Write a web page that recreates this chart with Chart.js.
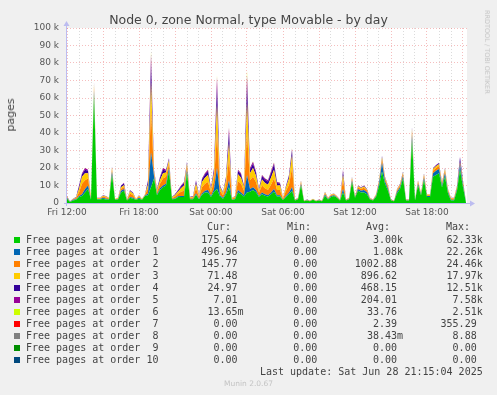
<!DOCTYPE html>
<html>
<head>
<meta charset="utf-8">
<title>Node 0, zone Normal, type Movable - by day</title>
<script src="https://cdn.jsdelivr.net/npm/chart.js@4/dist/chart.umd.min.js"></script>
<style>
  html, body { margin: 0; padding: 0; background: #f0f0f0; }
  #wrap { position: relative; width: 497px; height: 395px; overflow: hidden; font-family: "DejaVu Sans", sans-serif; color: #444; }
  #chart { position: absolute; left: 0; top: 0; }
  .txt { position: absolute; white-space: pre; }
  .mono { font-family: "DejaVu Sans Mono", monospace; font-size: 10px; line-height: 12px; color: #444; }
  .swatch { position: absolute; width: 6px; height: 6px; }
</style>
</head>
<body>
<div id="wrap">
  <canvas id="chart" width="497" height="395"></canvas>
  <div class="txt" id="title" style="left:0;width:497px;top:12px;text-align:center;font-size:12.5px;line-height:16px;">Node 0, zone Normal, type Movable - by day</div>
  <div class="txt" style="left:11px;top:115px;font-size:11px;line-height:12px;transform:translate(-50%,-50%) rotate(-90deg);">pages</div>
  <div class="txt" style="left:487px;top:52px;font-size:6.5px;line-height:8px;color:#c4c4c4;transform:translate(-50%,-50%) rotate(90deg);">RRDTOOL / TOBI OETIKER</div>
  <div id="legend"></div>
  <div class="txt" style="left:0;width:497px;top:379px;text-align:center;font-size:7.5px;line-height:10px;color:#c4c4c4;">Munin 2.0.67</div>
</div>
<script>
// 5-minute munin samples every 15 minutes, in thousands of pages
const sampleMinutes = 15;

const order0 = [
  2.5, 0.6, 1.5, 1.8, 3.5, 4, 6, 8, 2, 62,
  2, 2, 2.5, 2, 2, 16, 1.8, 2, 6, 7,
  1.4, 3, 2.5, 1.8, 2.5, 1.8, 4, 4.5, 9, 14,
  4.5, 7.5, 9, 10, 18, 2.2, 2.3, 3.4, 3.5, 3.5,
  17, 2.2, 2.2, 4.7, 2.2, 4.7, 6, 6, 3.5, 6.5,
  8, 3.7, 2.5, 5, 9, 1.7, 2.2, 6, 5, 3.7,
  6, 6.5, 7.5, 6.2, 3.5, 5, 4.2, 3.7, 5, 6.5,
  3.7, 3.7, 1.7, 3.5, 5, 7, 1.4, 2, 10, 1,
  1.4, 1, 1.8, 1, 1.4, 1, 4, 2, 3.5, 4,
  3, 1.4, 6, 1.4, 2, 12, 3, 7, 6, 6,
  5, 2, 1.4, 3.5, 9.5, 18, 11, 7, 1.4, 1,
  5.5, 8, 14, 1.4, 1.4, 36, 1.4, 10, 4.5, 13,
  3.5, 3.5, 15, 16, 17, 9, 15, 5.5, 1.5, 1.5,
  7, 19, 9, 0.2
];
const order1 = [
  0.5, 0.1, 0.3, 0.3, 0.5, 1, 2, 2, 0.3, 2.5,
  0.3, 0.3, 0.5, 0.5, 0.3, 2, 0.2, 0.3, 1, 1,
  0.2, 0.5, 0.5, 0.2, 0.5, 0.2, 0.3, 1, 20, 1.5,
  0.5, 1, 1, 1, 2, 0.2, 0.3, 0.4, 0.5, 0.5,
  2, 0.2, 0.2, 0.8, 0.3, 0.8, 1, 1.5, 0.5, 1.5,
  12, 0.8, 0.5, 1, 4, 0.2, 0.3, 1.5, 1, 0.8,
  10, 1.5, 1.5, 1.3, 0.5, 1, 0.8, 0.8, 1, 1.5,
  0.8, 0.8, 0.2, 0.5, 1, 2, 0.2, 0.3, 1, 0.2,
  0.2, 0.2, 0.2, 0.2, 0.2, 0.2, 0.8, 0.3, 0.5, 0.5,
  0.3, 0.2, 2, 0.2, 0.3, 1, 0.3, 1, 1, 1.5,
  1.2, 0.3, 0.2, 0.5, 1.5, 5, 1.5, 1, 0.2, 0.2,
  1, 1, 1.5, 0.2, 0.2, 3, 0.2, 1, 0.5, 1.5,
  0.5, 0.5, 2, 2.5, 2.5, 1, 2, 1, 0.3, 0.3,
  1, 3, 1.5, 0.5
];
const order2 = [
  0.4, 0.1, 0.3, 0.7, 2, 6, 5, 4, 0.3, 2,
  0.3, 0.3, 0.7, 0.7, 0.3, 1.5, 0.2, 0.3, 1, 1.2,
  0.2, 2, 1.5, 0.2, 0.7, 0.2, 0.3, 3, 24, 1.5,
  1.2, 2.5, 4, 4, 2.5, 0.5, 1, 1.5, 2.5, 3,
  2, 0.5, 0.7, 3, 1, 3.5, 4, 4.5, 2, 5,
  20, 2.5, 1.5, 4, 12, 0.5, 0.7, 5, 5, 2.5,
  24, 5, 6, 4.5, 2, 4, 3.5, 3, 4.5, 6,
  3, 3, 0.5, 3, 4.5, 11, 0.2, 0.3, 1, 0.1,
  0.2, 0.1, 0.2, 0.1, 0.2, 0.1, 0.8, 0.3, 0.5, 0.5,
  0.3, 0.2, 5, 0.2, 0.3, 1, 0.3, 1, 1, 1.2,
  0.9, 0.3, 0.2, 0.5, 1, 2, 1.2, 1, 0.2, 0.1,
  0.7, 1, 1.2, 0.2, 0.2, 2, 0.2, 1, 0.5, 1.2,
  0.5, 0.5, 1.5, 1.5, 1.7, 1, 1.5, 0.7, 0.8, 0.8,
  1, 1, 1, 0.1
];
const order3 = [
  0.3, 0.1, 0.2, 0.4, 2, 4, 4, 3, 0.2, 1.5,
  0.2, 0.2, 0.5, 0.5, 0.2, 1, 0.2, 0.2, 1, 1,
  0.1, 1.2, 1, 0.2, 0.5, 0.2, 0.2, 2, 16, 1,
  1, 2, 3, 2.5, 2, 0.4, 0.8, 1.2, 2, 3,
  1.5, 0.4, 0.5, 2.5, 0.7, 3, 3.5, 4, 1.5, 4,
  16, 2, 1, 3, 9, 0.4, 0.5, 4, 3.5, 2,
  17, 4, 5, 3.5, 1.2, 3.5, 3, 3, 4, 5,
  2.5, 2.5, 0.4, 2, 3.5, 7, 0.1, 0.2, 0.6, 0.1,
  0.1, 0.1, 0.2, 0.1, 0.1, 0.1, 0.5, 0.2, 0.3, 0.3,
  0.2, 0.1, 3, 0.1, 0.2, 0.6, 0.2, 0.6, 0.6, 0.8,
  0.5, 0.2, 0.1, 0.3, 0.6, 1.2, 0.8, 0.6, 0.1, 0.1,
  0.5, 0.6, 0.8, 0.1, 0.1, 1.5, 0.1, 0.6, 0.3, 0.8,
  0.3, 0.3, 0.9, 1, 1, 0.6, 0.9, 0.5, 0.2, 0.2,
  0.6, 0.5, 0.8, 0.1
];
const order4 = [
  0.2, 0.1, 0.1, 0.2, 1.5, 1.5, 2, 1.5, 0.1, 0.7,
  0.1, 0.1, 0.2, 0.2, 0.1, 0.4, 0.1, 0.1, 0.8, 1,
  0.1, 0.5, 0.4, 0.1, 0.2, 0.1, 0.1, 1.8, 10, 0.7,
  0.5, 1.5, 2, 1, 0.8, 0.2, 0.4, 0.6, 1, 1.5,
  0.8, 0.2, 0.3, 1.5, 0.3, 1.5, 1.8, 2, 0.8, 2,
  10, 0.7, 0.3, 1.5, 6, 0.1, 0.2, 1.8, 1.8, 0.7,
  10, 2, 2.5, 1.8, 0.5, 1.8, 1.8, 1.8, 2.5, 3,
  1.5, 1.2, 0.1, 0.7, 1.5, 3, 0.1, 0.1, 0.3, 0.1,
  0.1, 0.1, 0.1, 0.1, 0.1, 0.1, 0.3, 0.1, 0.1, 0.1,
  0.1, 0.1, 2, 0.1, 0.1, 0.3, 0.1, 0.3, 0.3, 0.4,
  0.3, 0.1, 0.1, 0.1, 0.3, 0.6, 0.4, 0.3, 0.1, 0.1,
  0.2, 0.3, 0.4, 0.1, 0.1, 0.8, 0.1, 0.3, 0.1, 0.4,
  0.1, 0.1, 0.4, 0.5, 0.6, 0.3, 0.4, 0.2, 0.1, 0.1,
  0.3, 2.5, 0.5, 0
];
const order5 = [
  0.1, 0, 0.1, 0.1, 0.5, 0.5, 1, 0.5, 0.1, 0.3,
  0.1, 0.1, 0.1, 0.1, 0.1, 0.1, 0, 0.1, 0.2, 0.4,
  0, 0.2, 0.1, 0, 0.1, 0, 0.1, 0.7, 6, 0.3,
  0.3, 0.5, 1, 0.5, 0.4, 0.1, 0.2, 0.3, 0.5, 0.5,
  0.3, 0.1, 0.1, 0.5, 0.2, 0.5, 0.7, 1, 0.3, 1,
  6, 0.3, 0.2, 0.5, 3, 0.1, 0.1, 0.7, 0.7, 0.3,
  6, 1, 1.1, 0.7, 0.3, 0.7, 0.7, 0.7, 1, 1,
  0.5, 0.4, 0.1, 0.3, 0.5, 1, 0, 0.1, 0.1, 0,
  0, 0, 0, 0, 0, 0, 0.1, 0.1, 0.1, 0.1,
  0.1, 0, 1, 0, 0.1, 0.1, 0.1, 0.1, 0.1, 0.1,
  0.1, 0.1, 0, 0.1, 0.1, 0.2, 0.1, 0.1, 0, 0,
  0.1, 0.1, 0.1, 0, 0, 0.3, 0, 0.1, 0.1, 0.1,
  0.1, 0.1, 0.2, 0.2, 0.2, 0.1, 0.2, 0.1, 0.1, 0.1,
  0.1, 0.5, 0.2, 0
];
const order6 = [
  0, 0, 0, 0, 0, 0, 0.1, 0, 0, 0,
  0, 0, 0, 0, 0, 0, 0, 0, 0, 0,
  0, 0, 0, 0, 0, 0, 0, 0.1, 1.5, 0,
  0, 0, 0.2, 0, 0, 0, 0, 0, 0, 0.1,
  0, 0, 0, 0, 0, 0.1, 0.2, 0.3, 0, 0.2,
  1, 0, 0, 0.2, 0.5, 0, 0, 0.2, 0.2, 0,
  2.5, 0.2, 0.3, 0.2, 0, 0.2, 0.2, 0.2, 0.3, 0.3,
  0.1, 0.1, 0, 0, 0.1, 0.4, 0, 0, 0, 0,
  0, 0, 0, 0, 0, 0, 0, 0, 0, 0,
  0, 0, 0.2, 0, 0, 0, 0, 0, 0, 0,
  0, 0, 0, 0, 0, 0, 0, 0, 0, 0,
  0, 0, 0, 0, 0, 0, 0, 0, 0, 0,
  0, 0, 0, 0, 0, 0, 0, 0, 0, 0,
  0, 0, 0, 0
];
const order7 = [
  0, 0, 0, 0, 0, 0, 0, 0, 0, 0,
  0, 0, 0, 0, 0, 0, 0, 0, 0, 0,
  0, 0, 0, 0, 0, 0, 0, 0, 0.35, 0,
  0, 0, 0, 0, 0, 0, 0, 0, 0, 0,
  0, 0, 0, 0, 0, 0, 0, 0, 0, 0,
  0.1, 0, 0, 0, 0, 0, 0, 0, 0, 0,
  0.2, 0, 0, 0, 0, 0, 0, 0, 0, 0,
  0, 0, 0, 0, 0, 0, 0, 0, 0, 0,
  0, 0, 0, 0, 0, 0, 0, 0, 0, 0,
  0, 0, 0, 0, 0, 0, 0, 0, 0, 0,
  0, 0, 0, 0, 0, 0, 0, 0, 0, 0,
  0, 0, 0, 0, 0, 0, 0, 0, 0, 0,
  0, 0, 0, 0, 0, 0, 0, 0, 0, 0,
  0, 0, 0, 0
];
const order8 = [
  0, 0, 0, 0, 0, 0, 0, 0, 0, 0,
  0, 0, 0, 0, 0, 0, 0, 0, 0, 0,
  0, 0, 0, 0, 0, 0, 0, 0, 0.01, 0,
  0, 0, 0, 0, 0, 0, 0, 0, 0, 0,
  0, 0, 0, 0, 0, 0, 0, 0, 0, 0,
  0, 0, 0, 0, 0, 0, 0, 0, 0, 0,
  0, 0, 0, 0, 0, 0, 0, 0, 0, 0,
  0, 0, 0, 0, 0, 0, 0, 0, 0, 0,
  0, 0, 0, 0, 0, 0, 0, 0, 0, 0,
  0, 0, 0, 0, 0, 0, 0, 0, 0, 0,
  0, 0, 0, 0, 0, 0, 0, 0, 0, 0,
  0, 0, 0, 0, 0, 0, 0, 0, 0, 0,
  0, 0, 0, 0, 0, 0, 0, 0, 0, 0,
  0, 0, 0, 0
];
const order9 = [
  0, 0, 0, 0, 0, 0, 0, 0, 0, 0,
  0, 0, 0, 0, 0, 0, 0, 0, 0, 0,
  0, 0, 0, 0, 0, 0, 0, 0, 0, 0,
  0, 0, 0, 0, 0, 0, 0, 0, 0, 0,
  0, 0, 0, 0, 0, 0, 0, 0, 0, 0,
  0, 0, 0, 0, 0, 0, 0, 0, 0, 0,
  0, 0, 0, 0, 0, 0, 0, 0, 0, 0,
  0, 0, 0, 0, 0, 0, 0, 0, 0, 0,
  0, 0, 0, 0, 0, 0, 0, 0, 0, 0,
  0, 0, 0, 0, 0, 0, 0, 0, 0, 0,
  0, 0, 0, 0, 0, 0, 0, 0, 0, 0,
  0, 0, 0, 0, 0, 0, 0, 0, 0, 0,
  0, 0, 0, 0, 0, 0, 0, 0, 0, 0,
  0, 0, 0, 0
];
const order10 = [
  0, 0, 0, 0, 0, 0, 0, 0, 0, 0,
  0, 0, 0, 0, 0, 0, 0, 0, 0, 0,
  0, 0, 0, 0, 0, 0, 0, 0, 0, 0,
  0, 0, 0, 0, 0, 0, 0, 0, 0, 0,
  0, 0, 0, 0, 0, 0, 0, 0, 0, 0,
  0, 0, 0, 0, 0, 0, 0, 0, 0, 0,
  0, 0, 0, 0, 0, 0, 0, 0, 0, 0,
  0, 0, 0, 0, 0, 0, 0, 0, 0, 0,
  0, 0, 0, 0, 0, 0, 0, 0, 0, 0,
  0, 0, 0, 0, 0, 0, 0, 0, 0, 0,
  0, 0, 0, 0, 0, 0, 0, 0, 0, 0,
  0, 0, 0, 0, 0, 0, 0, 0, 0, 0,
  0, 0, 0, 0, 0, 0, 0, 0, 0, 0,
  0, 0, 0, 0
];

const tickHours = [0, 6, 12, 18, 24, 30];
const tickLabels = ["Fri 12:00", "Fri 18:00", "Sat 00:00", "Sat 06:00", "Sat 12:00", "Sat 18:00"];

const seriesNames = [
  "Free pages at order  0", "Free pages at order  1", "Free pages at order  2",
  "Free pages at order  3", "Free pages at order  4", "Free pages at order  5",
  "Free pages at order  6", "Free pages at order  7", "Free pages at order  8",
  "Free pages at order  9", "Free pages at order 10"
];
const curValues = ["175.64", "496.96", "145.77", "71.48", "24.97", "7.01", "13.65m", "0.00", "0.00", "0.00", "0.00"];
const minValues = ["0.00", "0.00", "0.00", "0.00", "0.00", "0.00", "0.00", "0.00", "0.00", "0.00", "0.00"];
const avgValues = ["3.00k", "1.08k", "1002.88", "896.62", "468.15", "204.01", "33.76", "2.39", "38.43m", "0.00", "0.00"];
const maxValues = ["62.33k", "22.26k", "24.46k", "17.97k", "12.51k", "7.58k", "2.51k", "355.29", "8.88", "0.00", "0.00"];
const lastUpdate = "Last update: Sat Jun 28 21:15:04 2025";

const seriesColors = ["#00CC00", "#0066B3", "#FF8000", "#FFCC00", "#330099", "#990099",
                      "#CCFF00", "#FF0000", "#808080", "#008F00", "#00487D"];

const series = [order0, order1, order2, order3, order4, order5, order6, order7, order8, order9, order10];

// legend table under the graph
const legend = document.getElementById("legend");
function addText(text, right, centerY, cls) {
    const d = document.createElement("div");
    d.className = "txt " + (cls || "mono");
    d.style.right = (497 - right) + "px";
    d.style.top = (centerY - 6) + "px";
    d.textContent = text;
    legend.appendChild(d);
}
function withUnit(v) {
    return /[km]$/.test(v) ? v : v + " ";
}
addText("Cur:", 231, 227);
addText("Min:", 311, 227);
addText("Avg:", 390, 227);
addText("Max:", 470, 227);
seriesNames.forEach(function (name, k) {
    const y = 240 + k * 12;
    const sw = document.createElement("div");
    sw.className = "swatch";
    sw.style.left = "14px";
    sw.style.top = (y - 3) + "px";
    sw.style.background = seriesColors[k];
    legend.appendChild(sw);
    const n = document.createElement("div");
    n.className = "txt mono";
    n.style.left = "26px";
    n.style.top = (y - 6) + "px";
    n.textContent = name;
    legend.appendChild(n);
    addText(withUnit(curValues[k]), 243.5, y);
    addText(withUnit(minValues[k]), 323.3, y);
    addText(withUnit(avgValues[k]), 403, y);
    addText(withUnit(maxValues[k]), 482.7, y);
});
addText(lastUpdate, 482.7, 372);

const axisColor = "#bcbcf0";
const majorGrid = "rgba(230, 100, 100, 0.42)";
const minorGrid = "rgba(160, 160, 160, 0.38)";

const muninPlugin = {
    id: "munin",
    beforeDraw(chart) {
        const a = chart.chartArea;
        const c = chart.ctx;
        c.save();
        c.fillStyle = "#ffffff";
        c.fillRect(a.left, a.top, a.right - a.left, a.bottom - a.top);
        c.restore();
    },
    afterDatasetsDraw(chart) {
        const a = chart.chartArea;
        const c = chart.ctx;
        const x0 = a.left - 0.5;
        const y0 = a.bottom + 0.5;
        c.save();
        c.strokeStyle = axisColor;
        c.fillStyle = axisColor;
        c.lineWidth = 1;
        c.beginPath();
        c.moveTo(x0, a.bottom + 3);
        c.lineTo(x0, a.top - 3);
        c.moveTo(a.left - 3, y0);
        c.lineTo(a.right + 3, y0);
        c.stroke();
        c.beginPath();
        c.moveTo(x0 - 3, a.top - 2);
        c.lineTo(x0 + 3, a.top - 2);
        c.lineTo(x0, a.top - 7);
        c.closePath();
        c.fill();
        c.beginPath();
        c.moveTo(a.right + 3, y0 - 3);
        c.lineTo(a.right + 3, y0 + 3);
        c.lineTo(a.right + 8, y0);
        c.closePath();
        c.fill();
        c.restore();
    }
};

const datasets = series.map(function (vals, k) {
    return {
        label: seriesNames[k],
        data: vals.map(function (v, i) { return { x: i * sampleMinutes / 60, y: v }; }),
        backgroundColor: seriesColors[k],
        borderColor: seriesColors[k],
        borderWidth: 0,
        pointRadius: 0,
        tension: 0,
        fill: k === 0 ? "origin" : "-1"
    };
});

new Chart(document.getElementById("chart").getContext("2d"), {
    type: "line",
    data: { datasets: datasets },
    plugins: [muninPlugin],
    options: {
        responsive: false,
        animation: false,
        devicePixelRatio: 1,
        layout: { padding: { left: 0, top: 28, right: 30, bottom: 172 } },
        plugins: { legend: { display: false }, tooltip: { enabled: false }, title: { display: false } },
        scales: {
            x: {
                type: "linear",
                min: 0,
                max: 400 / 12,
                afterFit: function (scale) { scale.height = 20; },
                border: { display: false, dash: [1, 2] },
                grid: {
                    drawTicks: false,
                    color: function (ctx) {
                        return ctx.tick && Math.round(ctx.tick.value) % 3 === 0 ? majorGrid : minorGrid;
                    }
                },
                ticks: {
                    stepSize: 1,
                    autoSkip: false,
                    maxRotation: 0,
                    includeBounds: false,
                    padding: 4,
                    color: "#555",
                    font: { family: "DejaVu Sans", size: 9 },
                    callback: function (value) {
                        const idx = tickHours.indexOf(Math.round(value));
                        return idx >= 0 && Math.abs(value - Math.round(value)) < 1e-6 ? tickLabels[idx] : "";
                    }
                }
            },
            y: {
                stacked: true,
                min: 0,
                max: 100,
                afterFit: function (scale) { scale.width = 67; },
                border: { display: false, dash: [1, 2] },
                grid: {
                    drawTicks: false,
                    color: function (ctx) {
                        return ctx.tick && ctx.tick.value % 10 === 0 ? majorGrid : minorGrid;
                    }
                },
                ticks: {
                    stepSize: 5,
                    padding: 8,
                    color: "#555",
                    font: { family: "DejaVu Sans", size: 9 },
                    callback: function (value) {
                        if (value % 10 !== 0) return "";
                        return value === 0 ? "0" : value + " k";
                    }
                }
            }
        }
    }
});
</script>
</body>
</html>
